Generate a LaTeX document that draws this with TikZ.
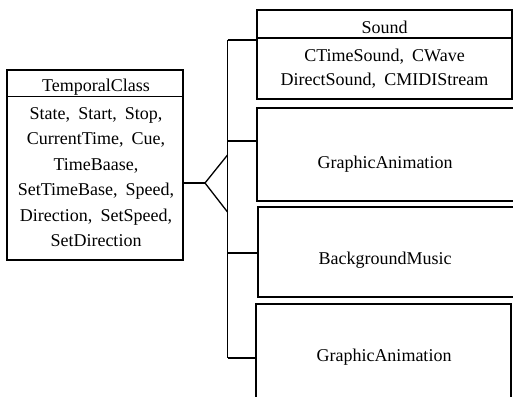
\documentclass[tikz,border=0pt]{standalone}
\usepackage{fontspec}
\setmainfont{Liberation Serif}
\newcommand{\lblfont}{\fontsize{18bp}{21bp}\selectfont\spaceskip=0.45em\relax}
\begin{document}
\begin{tikzpicture}[x=1bp,y=-1bp,line width=1.2bp,
  box/.style={draw,rectangle,inner sep=0pt,outer sep=0pt,anchor=north west},
  lbl/.style={anchor=base,inner sep=0pt,font=\lblfont},
  wire/.style={draw,line width=1.3bp}]
\path[use as bounding box,clip] (0,0) rectangle (513,396);

% class box on the left
\node[box,minimum width=176bp,minimum height=190bp] (temporal) at (7,70) {};
\draw (7,96.5) -- (183,96.5);
\node[lbl] (tTitle) at (96,91) {TemporalClass};
\node[lbl] (tA) at (96,119)   {State, Start, Stop,};
\node[lbl] (tB) at (96,144.5) {CurrentTime, Cue,};
\node[lbl] (tC) at (96,170)   {TimeBaase,};
\node[lbl] (tD) at (96,195.5) {SetTimeBase, Speed,};
\node[lbl] (tE) at (96,221)   {Direction, SetSpeed,};
\node[lbl] (tF) at (96,246.5) {SetDirection};

% derived boxes on the right
\node[box,minimum width=255bp,minimum height=89bp] (sound) at (257,10) {};
\draw (257,38) -- (512,38);
\node[lbl] (sTitle) at (384.5,33) {Sound};
\node[lbl] (sA) at (384.5,61) {CTimeSound, CWave};
\node[lbl] (sB) at (384.5,85.5) {DirectSound, CMIDIStream};

\node[box,minimum width=258bp,minimum height=93bp] (animA) at (257,108) {};
\node[lbl] (animAtext) at (385,168) {GraphicAnimation};

\node[box,minimum width=257bp,minimum height=90bp] (music) at (258,207) {};
\node[lbl] (musicText) at (385,264) {BackgroundMusic};

\node[box,minimum width=255bp,minimum height=100bp] (animB) at (256,304) {};
\node[lbl] (animBtext) at (384,361) {GraphicAnimation};

% inheritance connector
\coordinate (apex) at (205,183);
\coordinate (jU) at (227.5,155);
\coordinate (jL) at (227.5,212);
\coordinate (busTop) at (227.5,40);
\coordinate (s2) at (227.5,141);
\coordinate (s3) at (227.5,253);
\coordinate (busBot) at (227.5,358);

\draw[wire] (temporal.east |- apex) -- (apex);
\draw[wire] (jU) -- (apex) -- (jL);
\draw[wire] (busTop) -- (busBot);
\draw[wire] (busTop) -- (busTop -| sound.west);
\draw[wire] (s2) -- (s2 -| animA.west);
\draw[wire] (s3) -- (s3 -| music.west);
\draw[wire] (busBot) -- (busBot -| animB.west);
\end{tikzpicture}
\end{document}
